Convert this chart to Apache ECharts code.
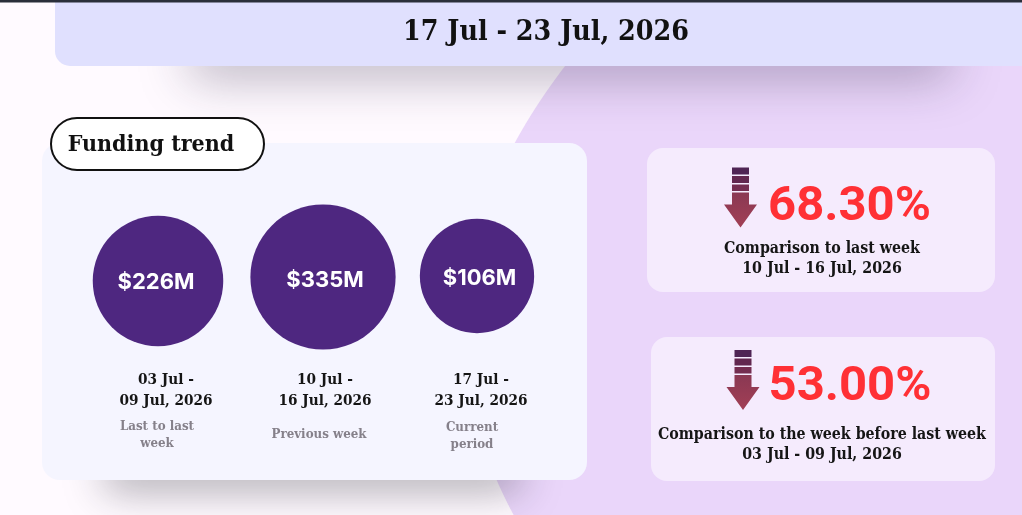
<!DOCTYPE html>
<html><head><meta charset="utf-8">
<style>html,body{margin:0;padding:0;background:#fffaff}#c{width:1022px;height:515px}</style>
<script src="https://cdn.jsdelivr.net/npm/echarts@6/dist/echarts.min.js"></script>
</head><body><div id="c"></div>
<script>
const periods = ['03 Jul -\n09 Jul, 2026', '10 Jul -\n16 Jul, 2026', '17 Jul -\n23 Jul, 2026'];
const fundingMillions = [226, 335, 106];
const periodRoles = ['Last to last\nweek', 'Previous week', 'Current\nperiod'];
const titleText = '17 Jul - 23 Jul, 2026';
const sectionTitle = 'Funding trend';
const changes = ['68.30%', '53.00%'];
const changeNotes = ['Comparison to last week\n10 Jul - 16 Jul, 2026', 'Comparison to the week before last week\n03 Jul - 09 Jul, 2026'];

const SERIF = '"DejaVu Serif Condensed","Liberation Serif",serif';
const chart = echarts.init(document.getElementById('c'), null, {renderer:'canvas'});

function rr(x,y,w,h,r,fill,extra){
  return {type:'rect',silent:true,shape:{x,y,width:w,height:h,r},style:Object.assign({fill},extra||{})};
}
function txt(x,y,text,font,fill,lh){
  return {type:'text',silent:true,x,y,style:{text,font,fill,textAlign:'center',textVerticalAlign:'middle',lineHeight:lh}};
}
function arrow(cx,top){
  const bars=[[0,7,'#4f2454'],[8.5,7,'#62274f'],[17,6.5,'#742d50']];
  const els=bars.map(b=>({type:'rect',silent:true,shape:{x:cx-8.5,y:top+b[0],width:17,height:b[1]},style:{fill:b[2]}}));
  els.push({type:'polygon',silent:true,shape:{points:[[cx-8.5,top+25],[cx+8.5,top+25],[cx+8.5,top+37],[cx+16.5,top+37],[cx,top+60],[cx-16.5,top+37],[cx-8.5,top+37]]},
    style:{fill:{type:'linear',x:0,y:0,x2:0,y2:1,colorStops:[{offset:0,color:'#8a3853'},{offset:1,color:'#a23f55'}]}}});
  return els;
}

const dateX=[166,325,481], roleX=[157,319,472], roleY=[435,435,436];
const blob=[[1022,0]];
for(let y=0;y<=515;y+=5){ blob.push([464+0.00145*(y-330)*(y-330),y]); }
blob.push([1022,515]);
const bg=[
  {type:'polygon',silent:true,shape:{points:blob},style:{fill:'#ead6fa'}},
  rr(190,22,760,40,0,'#e0e0fe',{shadowBlur:50,shadowColor:'rgba(40,30,60,0.36)',shadowOffsetY:14}),
  rr(105,440,415,36,0,'#f5f5ff',{shadowBlur:40,shadowColor:'rgba(30,30,40,0.38)',shadowOffsetY:14}),
  rr(55,0,967,66,[0,0,0,15],'#e0e0fe'),
  rr(0,0,1022,2.5,0,'#2a2f3a'),
  txt(546,33,titleText,'bold 28.3px '+SERIF,'#111111'),
  rr(42,143,545,337,18,'#f5f5ff'),
  rr(51,118,213,52,26,'#ffffff',{stroke:'#111111',lineWidth:2}),
  txt(151,145,sectionTitle,'bold 23px '+SERIF,'#111111'),
  rr(647,148,348,144,16,'#f5ebfd'),
  rr(651,337,344,144,16,'#f5ebfd'),
  ...arrow(740.5,167.5),
  ...arrow(743,350),
  txt(849.5,208,changes[0],'bold 49px Roboto,sans-serif','#ff3035'),
  txt(850,388,changes[1],'bold 49px Roboto,sans-serif','#ff3035'),
  txt(822,259,changeNotes[0],'bold 15.8px '+SERIF,'#151515',19.5),
  txt(822,445,changeNotes[1],'bold 15.8px '+SERIF,'#151515',19.5),
  ...periods.map((p,i)=>txt(dateX[i],391,p,'bold 15.2px '+SERIF,'#151515',21)),
  ...periodRoles.map((p,i)=>txt(roleX[i],roleY[i],p,'bold 13.2px '+SERIF,'#85808a',17))
];

const offs=[[0,4],[0,0],[-11,-1]];
const labelNudge=[[-2,1],[2,3],[2.5,2]];
chart.setOption({
  animation:false,
  backgroundColor:'#fffaff',
  grid:{left:75.5,top:227,width:495,height:100},
  xAxis:{type:'category',data:periods,show:false},
  yAxis:{type:'category',data:['funding'],show:false},
  graphic:{elements:bg.map(e=>Object.assign({z:-1},e))},
  series:[{
    type:'scatter',z:5,silent:true,
    data:fundingMillions.map((v,i)=>({value:[periods[i],'funding',v],symbolOffset:offs[i],label:{offset:labelNudge[i]}})),
    symbolSize:d=>100+0.135*d[2],
    itemStyle:{color:'#4e2780',opacity:1},
    label:{show:true,position:'inside',formatter:p=>'$'+p.value[2]+'M',color:'#ffffff',fontFamily:'Inter,Roboto,sans-serif',fontWeight:700,fontSize:22}
  }]
});
</script></body></html>
